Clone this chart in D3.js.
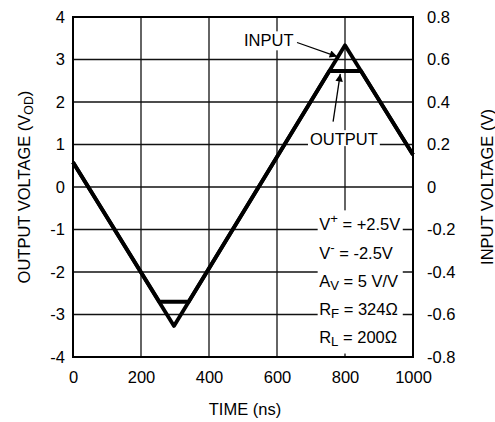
<!DOCTYPE html>
<html><head><meta charset="utf-8">
<script src="https://cdn.jsdelivr.net/npm/d3@7/dist/d3.min.js"></script>
<style>
html,body{margin:0;padding:0;background:#fff;}
svg{display:block;font-family:Arial,"Liberation Sans",Helvetica,sans-serif;}
</style></head>
<body>
<svg id="c" width="495" height="422"></svg>
<script>
// ---- data ----
const timeTicks = [0, 200, 400, 600, 800, 1000];
const outTicks = [-4, -3, -2, -1, 0, 1, 2, 3, 4];
const inTicks = [-0.8, -0.6, -0.4, -0.2, 0, 0.2, 0.4, 0.6, 0.8];
const inputTime = [0, 297, 800, 1000];
const inputVolts = [0.116, -0.654, 0.667, 0.152];
const outputTime = [0, 254, 340, 754, 847, 1000];
const outputVolts = [0.58, -2.70, -2.70, 2.73, 2.73, 0.76];
const paramLines = [
  [["V",""],["+","sup"],[" = +2.5V",""]],
  [["V",""],["-","sup"],[" = -2.5V",""]],
  [["A",""],["V","sub"],[" = 5 V/V",""]],
  [["R",""],["F","sub"],[" = 324\u03A9",""]],
  [["R",""],["L","sub"],[" = 200\u03A9",""]]
];
const paramBaselines = [-1.02, -1.69, -2.35, -3.0, -3.66];
const paramStartTime = 724;

// ---- layout ----
const svg = d3.select("#c");
const L = 73, R = 413, T = 17, B = 357;
const x = d3.scaleLinear().domain([0, 1000]).range([L, R]);
const yL = d3.scaleLinear().domain([-4, 4]).range([B, T]);
const yR = d3.scaleLinear().domain([-0.8, 0.8]).range([B, T]);
const FS = 16.5;
const hyph = s => s.replace("\u2212", "-");

// grid
const g = svg.append("g");
g.selectAll("line.v").data(timeTicks.slice(1, -1)).enter().append("line")
  .attr("x1", d => x(d)).attr("x2", d => x(d)).attr("y1", T).attr("y2", B)
  .attr("stroke", "#111").attr("stroke-width", 1.3);
g.selectAll("line.h").data(outTicks.slice(1, -1)).enter().append("line")
  .attr("x1", L).attr("x2", R).attr("y1", d => yL(d)).attr("y2", d => yL(d))
  .attr("stroke", "#111").attr("stroke-width", 1.3);

const boxLayer = svg.append("g");
const curveLayer = svg.append("g");
const textLayer = svg.append("g");

// curves
const line = (ys) => d3.line().x(d => x(d[0])).y(d => ys(d[1]));
curveLayer.append("path")
  .datum(inputTime.map((t, i) => [t, inputVolts[i]]))
  .attr("d", line(yR)).attr("fill", "none").attr("stroke", "#000")
  .attr("stroke-width", 3.8).attr("stroke-linejoin", "round");
curveLayer.append("path")
  .datum(outputTime.map((t, i) => [t, outputVolts[i]]))
  .attr("d", line(yL)).attr("fill", "none").attr("stroke", "#000")
  .attr("stroke-width", 3.8).attr("stroke-linejoin", "round");

// frame
svg.append("rect").attr("x", L).attr("y", T).attr("width", R - L).attr("height", B - T)
  .attr("fill", "none").attr("stroke", "#000").attr("stroke-width", 2);

// axes labels
const leftAxis = d3.axisLeft(yL).tickValues(outTicks).tickSize(0).tickPadding(8).tickFormat(d => hyph(d3.format("d")(d)));
const rightAxis = d3.axisRight(yR).tickValues(inTicks).tickSize(0).tickPadding(14).tickFormat(d => d === 0 ? "0" : hyph(d3.format(".1f")(d)));
const bottomAxis = d3.axisBottom(x).tickValues(timeTicks).tickSize(0).tickPadding(14).tickFormat(d3.format("d"));
function styleAxis(sel) {
  sel.select(".domain").remove();
  sel.selectAll("text").attr("font-size", FS).attr("fill", "#000")
    .attr("font-family", "Arial, 'Liberation Sans', sans-serif");
}
svg.append("g").attr("transform", `translate(${L},0)`).call(leftAxis).call(styleAxis);
svg.append("g").attr("transform", `translate(${R},0)`).call(rightAxis).call(styleAxis);
svg.append("g").attr("transform", `translate(0,${B})`).call(bottomAxis).call(styleAxis);

// axis titles
svg.append("text").attr("x", (L + R) / 2 + 2).attr("y", 415).attr("text-anchor", "middle")
  .attr("font-size", FS).text("TIME (ns)");
const lt = svg.append("text").attr("transform", `translate(29.5,${(T + B) / 2}) rotate(-90)`)
  .attr("text-anchor", "middle").attr("font-size", FS);
lt.append("tspan").text("OUTPUT VOLTAGE (V");
lt.append("tspan").attr("font-size", FS * 0.75).attr("dy", 3).text("OD");
lt.append("tspan").attr("dy", -3).text(")");
svg.append("text").attr("transform", `translate(492.5,${(T + B) / 2}) rotate(-90)`)
  .attr("text-anchor", "middle").attr("font-size", FS).text("INPUT VOLTAGE (V)");

// annotations
function boxedText(tx, ty, str, padX, padTop, padBot) {
  const t = textLayer.append("text").attr("x", tx).attr("y", ty).attr("font-size", FS).text(str);
  const bb = t.node().getBBox();
  boxLayer.append("rect").attr("x", bb.x - padX).attr("y", bb.y - padTop)
    .attr("width", bb.width + 2 * padX).attr("height", bb.height + padTop + padBot).attr("fill", "#fff");
  return t;
}
boxedText(x(503), yL(3.31), "INPUT", 1, 0, 1);
boxedText(x(697), yL(0.985), "OUTPUT", 2, 0, -2);

// params block
const pg = textLayer.append("g");
paramLines.forEach((parts, i) => {
  const t = pg.append("text").attr("x", x(paramStartTime)).attr("y", yL(paramBaselines[i]))
    .attr("font-size", FS);
  parts.forEach(([s, kind]) => {
    const sp = t.append("tspan").text(s);
    if (kind === "sup") sp.attr("font-size", FS * 0.8).attr("dy", -7);
    else if (kind === "sub") sp.attr("font-size", FS * 0.8).attr("dy", 3);
    else if (kind === "" && s.startsWith(" ")) sp.attr("dy", parts[1][1] === "sup" ? 7 : -3);
  });
});
const pb = pg.node().getBBox();
boxLayer.append("rect").attr("x", pb.x - 1.5).attr("y", pb.y - 1)
  .attr("width", pb.width + 4).attr("height", pb.height + 6).attr("fill", "#fff");

// arrows
const arrows = [
  { from: [659, 3.40], to: [777, 3.07] },
  { from: [765, 1.54], to: [786, 2.66] }
];
const defs = svg.append("defs");
defs.append("marker").attr("id", "ah").attr("viewBox", "0 0 10 10").attr("refX", 10).attr("refY", 5)
  .attr("markerWidth", 10).attr("markerHeight", 7.5).attr("markerUnits", "userSpaceOnUse")
  .attr("orient", "auto").append("path").attr("d", "M0,0L10,5L0,10z").attr("fill", "#000");
textLayer.selectAll("line.arrow").data(arrows).enter().append("line")
  .attr("x1", d => x(d.from[0])).attr("y1", d => yL(d.from[1]))
  .attr("x2", d => x(d.to[0])).attr("y2", d => yL(d.to[1]))
  .attr("stroke", "#000").attr("stroke-width", 1.3).attr("marker-end", "url(#ah)");
</script>
</body></html>
